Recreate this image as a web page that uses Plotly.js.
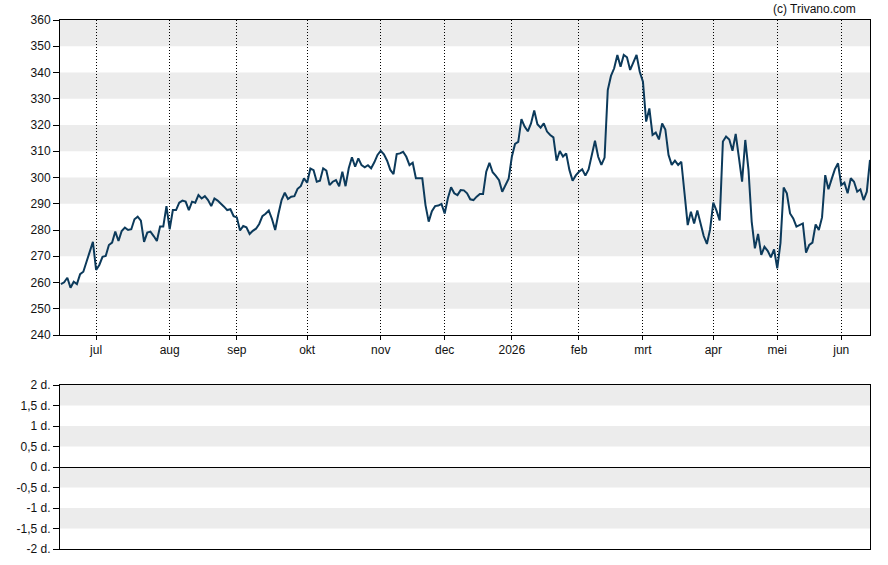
<!DOCTYPE html>
<html>
<head>
<meta charset="utf-8">
<script src="https://cdn.plot.ly/plotly-3.0.1.min.js"></script>
<style>
  html, body { margin: 0; padding: 0; background: #fff; }
  #chart { width: 888px; height: 565px; }
</style>
</head>
<body>
<div id="chart"></div>
<script>
// ---- data ----
const startDate = '2025-06-16';
const holidays = ['2025-12-25', '2025-12-26', '2026-01-01', '2026-04-03', '2026-04-06', '2026-05-01'];
const monthLabels = ['jul', 'aug', 'sep', 'okt', 'nov', 'dec', '2026', 'feb', 'mrt', 'apr', 'mei', 'jun'];
const prices = [
  259.4, 260.1, 261.8, 258.0, 260.3, 259.4, 263.2, 264.1, 267.9, 272.1,
  275.5, 264.8, 266.7, 269.8, 270.1, 274.3, 275.2, 279.4, 275.8, 279.6,
  280.9, 280.0, 280.3, 284.1, 285.1, 283.6, 275.5, 279.0, 279.4, 277.7,
  275.8, 281.3, 281.3, 289.1, 280.3, 287.6, 287.6, 290.4, 291.2, 290.8,
  287.6, 290.8, 290.4, 293.3, 292.0, 292.9, 291.4, 289.1, 292.0, 291.2,
  290.2, 288.9, 287.6, 287.9, 285.3, 284.8, 279.8, 281.5, 281.0, 278.5,
  279.7, 280.5, 282.3, 285.3, 286.2, 287.4, 284.2, 280.0, 286.1, 291.4,
  294.2, 291.8, 292.7, 292.9, 295.7, 296.7, 299.7, 298.0, 303.4, 302.8,
  298.4, 298.8, 303.5, 302.6, 297.1, 298.4, 299.0, 296.7, 302.2, 296.7,
  303.5, 307.7, 304.1, 307.3, 304.7, 303.9, 304.7, 303.5, 305.8, 308.6,
  310.2, 308.8, 306.4, 302.9, 301.3, 308.9, 309.2, 309.8, 307.9, 304.7,
  305.6, 299.7, 299.7, 299.7, 289.5, 283.2, 287.2, 289.1, 289.3, 289.9,
  286.3, 292.1, 296.3, 294.0, 293.3, 295.2, 295.1, 294.0, 291.7, 291.4,
  292.7, 293.7, 293.7, 302.2, 305.6, 302.0, 300.6, 299.0, 294.6, 297.3,
  299.5, 307.9, 312.8, 313.6, 322.2, 319.4, 317.6, 320.6, 325.5, 320.3,
  319.0, 320.6, 317.5, 316.2, 315.3, 306.4, 310.1, 308.0, 309.2, 302.9,
  298.8, 300.8, 302.2, 303.1, 300.7, 303.1, 309.2, 314.0, 307.9, 304.8,
  307.6, 333.3, 338.7, 341.6, 346.7, 342.2, 346.7, 345.8, 341.0, 344.1,
  346.7, 340.3, 336.5, 321.3, 326.3, 316.2, 317.1, 314.5, 320.6, 318.3,
  308.6, 304.8, 306.4, 304.8, 306.0, 294.0, 281.9, 287.0, 282.5, 287.4,
  281.9, 277.7, 274.7, 280.3, 290.4, 287.4, 283.6, 313.7, 315.6, 314.5,
  310.2, 316.6, 307.7, 298.4, 314.3, 302.9, 283.2, 273.0, 278.5, 270.5,
  273.6, 272.1, 269.6, 272.6, 265.4, 275.0, 296.2, 294.0, 286.3, 284.4,
  281.3, 281.9, 282.5, 271.4, 274.3, 275.2, 282.1, 280.0, 284.8, 300.9,
  295.5, 299.4, 303.1, 305.4, 297.1, 298.0, 294.0, 299.7, 298.4, 294.6,
  295.5, 291.4, 294.6, 306.7
];
const lowerTickVals = [2, 1.5, 1, 0.5, 0, -0.5, -1, -1.5, -2];
const lowerTickText = ['2 d.', '1,5 d.', '1 d.', '0,5 d.', '0 d.', '-0,5 d.', '-1 d.', '-1,5 d.', '-2 d.'];

// ---- trading-day dates (weekdays, exchange holidays removed) ----
function pad(n) { return (n < 10 ? '0' : '') + n; }
function fmt(d) { return d.getUTCFullYear() + '-' + pad(d.getUTCMonth() + 1) + '-' + pad(d.getUTCDate()); }
const dates = [];
(function () {
  const d = new Date(startDate + 'T00:00:00Z');
  while (dates.length < prices.length) {
    const wd = d.getUTCDay();
    const s = fmt(d);
    if (wd !== 0 && wd !== 6 && holidays.indexOf(s) < 0) dates.push(s);
    d.setUTCDate(d.getUTCDate() + 1);
  }
})();
// first trading day of each month after the first month -> tick positions
const tickVals = [];
for (let i = 1; i < dates.length; i++) {
  if (dates[i].slice(0, 7) !== dates[i - 1].slice(0, 7)) tickVals.push(dates[i]);
}
const tickText = monthLabels.slice(0, tickVals.length);

// ---- background bands ----
const shapes = [];
for (let v = 250; v <= 350; v += 20) {
  shapes.push({type: 'rect', xref: 'paper', yref: 'y', x0: 0, x1: 1, y0: v, y1: v + 10,
    fillcolor: '#ececec', line: {width: 0}, layer: 'below'});
}
for (let v = -1.5; v <= 1.5; v += 1) {
  shapes.push({type: 'rect', xref: 'paper', yref: 'y2', x0: 0, x1: 1, y0: v, y1: v + 0.5,
    fillcolor: '#ececec', line: {width: 0}, layer: 'below'});
}

const font = {family: 'Liberation Sans, Arial, sans-serif', size: 12, color: '#111'};
const rangebreaks = [{bounds: ['sat', 'mon']}, {values: holidays}];
const xRange = ['2025-06-13 17:00', dates[dates.length - 1]];

const traces = [
  {x: dates, y: prices, type: 'scatter', mode: 'lines', xaxis: 'x', yaxis: 'y',
   line: {color: '#0c3a5b', width: 2}, hoverinfo: 'x+y'},
  {x: [], y: [], type: 'scatter', mode: 'lines', xaxis: 'x2', yaxis: 'y2', showlegend: false}
];

const layout = {
  width: 888, height: 565,
  margin: {l: 60, r: 18, t: 20, b: 16},
  paper_bgcolor: '#ffffff', plot_bgcolor: '#ffffff',
  font: font,
  showlegend: false,
  shapes: shapes,
  xaxis: {
    type: 'date', domain: [0, 1], anchor: 'y', range: xRange, rangebreaks: rangebreaks,
    tickmode: 'array', tickvals: tickVals, ticktext: tickText,
    showgrid: true, gridcolor: '#000', gridwidth: 1, griddash: '1px,2px',
    showline: true, linecolor: '#000', linewidth: 1, mirror: true,
    ticks: 'outside', ticklen: 4, tickcolor: '#000', zeroline: false
  },
  yaxis: {
    domain: [0.4045, 1], anchor: 'x', range: [240, 360], dtick: 10, tick0: 240,
    showgrid: false, showline: true, linecolor: '#000', linewidth: 1, mirror: true,
    ticks: 'outside', ticklen: 6, tickcolor: '#000', zeroline: false
  },
  xaxis2: {
    type: 'date', domain: [0, 1], anchor: 'y2', range: xRange, rangebreaks: rangebreaks,
    showticklabels: false, showgrid: false,
    showline: true, linecolor: '#000', linewidth: 1, mirror: true, ticks: '', zeroline: false
  },
  yaxis2: {
    domain: [0, 0.31], anchor: 'x2', range: [-2, 2],
    tickmode: 'array', tickvals: lowerTickVals, ticktext: lowerTickText,
    showgrid: false, showline: true, linecolor: '#000', linewidth: 1, mirror: true,
    ticks: 'outside', ticklen: 6, tickcolor: '#000',
    zeroline: true, zerolinecolor: '#000', zerolinewidth: 1
  },
  annotations: [{
    text: '(c) Trivano.com', xref: 'paper', yref: 'paper', x: 0.985, y: 1,
    xanchor: 'right', yanchor: 'bottom', yshift: 2, showarrow: false,
    font: {family: 'Liberation Sans, Arial, sans-serif', size: 12, color: '#111'}
  }]
};

Plotly.newPlot('chart', traces, layout, {displayModeBar: false, staticPlot: true});
</script>
</body>
</html>
